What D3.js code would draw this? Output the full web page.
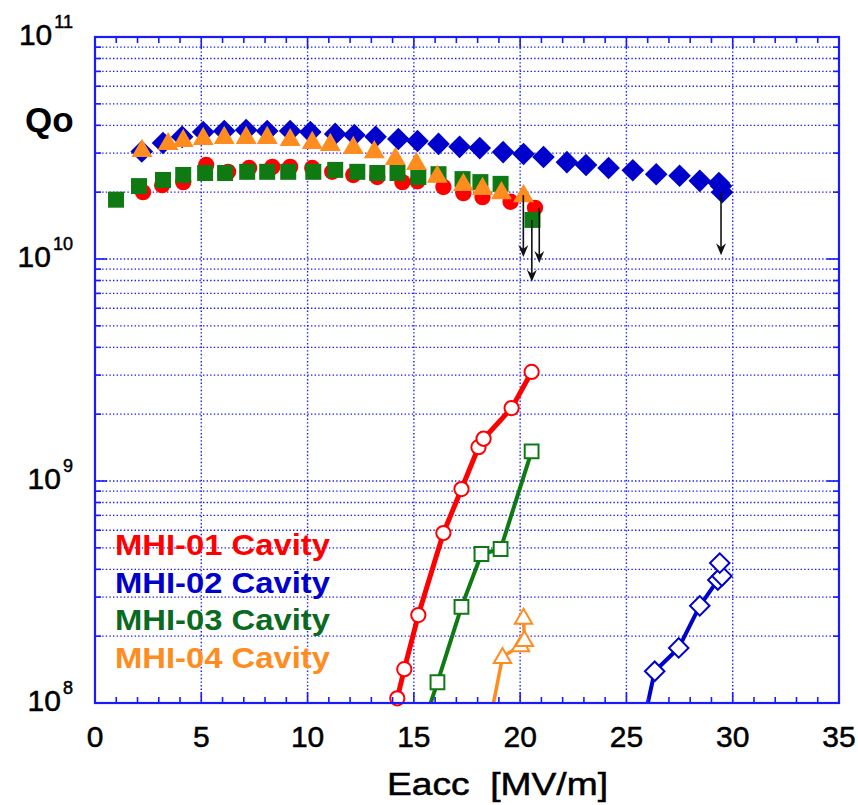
<!DOCTYPE html>
<html>
<head>
<meta charset="utf-8">
<script src="https://cdn.jsdelivr.net/npm/d3@7"></script>
<style>
  body { margin: 0; background: #fff; }
  svg { display: block; font-family: "Liberation Sans", Arial, sans-serif; }
</style>
</head>
<body>
<div id="chart"></div>
<script>
// Qo vs Eacc, closed markers = Qo, open markers + line = second measurement
const mhi01E = [2.26, 3.16, 4.15, 5.23, 6.26, 7.25, 8.34, 9.18, 10.22, 11.16, 12.15, 13.28, 14.46, 15.17, 16.39, 17.33, 18.23, 19.55, 20.7];
const mhi01Q = [2.0e10, 2.15e10, 2.22e10, 2.65e10, 2.47e10, 2.57e10, 2.6e10, 2.6e10, 2.57e10, 2.47e10, 2.39e10, 2.34e10, 2.22e10, 2.24e10, 2.11e10, 1.98e10, 1.9e10, 1.81e10, 1.7e10];

const mhi02E = [2.2, 3.2, 4.1, 5.09, 6.08, 7.11, 8.1, 9.18, 10.13, 11.3, 12.2, 13.2, 14.27, 15.17, 16.16, 17.15, 18.1, 19.2, 20.16, 21.1, 22.2, 23.1, 24.16, 25.3, 26.4, 27.5, 28.45, 29.35, 29.45, 29.5];
const mhi02Q = [3.05e10, 3.33e10, 3.55e10, 3.73e10, 3.77e10, 3.81e10, 3.77e10, 3.77e10, 3.73e10, 3.66e10, 3.62e10, 3.55e10, 3.47e10, 3.4e10, 3.3e10, 3.2e10, 3.16e10, 3.03e10, 2.97e10, 2.88e10, 2.73e10, 2.65e10, 2.57e10, 2.51e10, 2.41e10, 2.37e10, 2.25e10, 2.2e10, 2.13e10, 2.0e10];

const mhi03E = [0.99, 2.07, 3.2, 4.15, 5.18, 6.12, 7.16, 8.1, 9.09, 10.27, 11.3, 12.34, 13.28, 14.23, 15.21, 16.16, 17.29, 18.13, 19.08, 20.58];
const mhi03Q = [1.85e10, 2.13e10, 2.27e10, 2.39e10, 2.44e10, 2.44e10, 2.47e10, 2.47e10, 2.47e10, 2.47e10, 2.52e10, 2.47e10, 2.44e10, 2.44e10, 2.34e10, 2.41e10, 2.29e10, 2.22e10, 2.18e10, 1.5e10];

const mhi04E = [2.21, 3.44, 4.15, 5.09, 6.08, 7.11, 8.1, 9.18, 10.22, 11.07, 12.15, 13.14, 14.13, 15.12, 16.1, 17.33, 18.23, 19.12, 20.16];
const mhi04Q = [3.1e10, 3.33e10, 3.44e10, 3.51e10, 3.55e10, 3.55e10, 3.55e10, 3.47e10, 3.37e10, 3.3e10, 3.2e10, 3.06e10, 2.85e10, 2.71e10, 2.37e10, 2.18e10, 2.09e10, 2.0e10, 1.94e10];

// open-marker curves
const mhi01RadE = [14.22, 14.55, 15.21, 16.39, 17.24, 18.04, 18.28, 19.6, 20.54];
const mhi01Rad = [1.05e8, 1.42e8, 2.49e8, 5.83e8, 9.2e8, 1.42e9, 1.55e9, 2.13e9, 3.1e9];

const mhi02RadE = [25.85, 26.33, 27.46, 28.45, 29.3, 29.49, 29.39];
const mhi02Rad = [8.5e7, 1.39e8, 1.77e8, 2.74e8, 3.58e8, 3.73e8, 4.27e8];

const mhi03RadE = [15.55, 16.11, 17.24, 18.18, 19.08, 20.54];
const mhi03Rad = [8.5e7, 1.24e8, 2.71e8, 4.69e8, 4.94e8, 1.36e9];

const mhi04RadE = [18.6, 19.17, 20.02, 20.2, 20.16];
const mhi04Rad = [8.5e7, 1.61e8, 1.82e8, 1.92e8, 2.42e8];

// quench arrows
const arrowE = [20.15, 20.55, 20.9, 29.45];
const arrowFrom = [1.94e10, 1.5e10, 1.7e10, 2.0e10];
const arrowTo = [1.02e10, 7.9e9, 9.6e9, 1.04e10];

const xTicks = [0, 5, 10, 15, 20, 25, 30, 35];
const yDecades = [8, 9, 10, 11];
const legendLabels = ["MHI-01 Cavity", "MHI-02 Cavity", "MHI-03 Cavity", "MHI-04 Cavity"];

const colors = ["#ff0000", "#0000cc", "#0f7a12", "#ff8c1e"];
const legendColors = ["#ff0000", "#0000cc", "#0b6a22", "#ff8c1e"];
const axisBlue = "#1a1aff";

const width = 858, height = 805;
const margin = {left: 95, top: 37, right: 19, bottom: 102};
const plotW = width - margin.left - margin.right;
const plotH = height - margin.top - margin.bottom;

const svg = d3.select("#chart").append("svg")
    .attr("width", width)
    .attr("height", height);

const x = d3.scaleLinear().domain([0, 35]).range([margin.left, margin.left + plotW]);
const y = d3.scaleLog().domain([1e8, 1e11]).range([margin.top + plotH, margin.top]);

svg.append("clipPath").attr("id", "plotClip")
    .append("rect")
    .attr("x", margin.left).attr("y", margin.top)
    .attr("width", plotW).attr("height", plotH);

// grid
let minorVals = [];
yDecades.slice(0, 3).forEach(d => {
    for (let m = 2; m <= 10; m++) minorVals.push(m * Math.pow(10, d));
});
minorVals = minorVals.filter(v => v < 1e11);

const grid = svg.append("g")
    .attr("stroke", axisBlue)
    .attr("stroke-width", 1.4)
    .attr("stroke-dasharray", "1.4,2.2");

grid.selectAll("line.h")
    .data(minorVals)
    .enter().append("line")
    .attr("class", "h")
    .attr("x1", margin.left).attr("x2", margin.left + plotW)
    .attr("y1", d => y(d)).attr("y2", d => y(d));

grid.selectAll("line.v")
    .data(xTicks.slice(1, -1))
    .enter().append("line")
    .attr("class", "v")
    .attr("x1", d => x(d)).attr("x2", d => x(d))
    .attr("y1", margin.top).attr("y2", margin.top + plotH);

// open-marker curves
const radSeries = [
    {e: mhi01RadE, v: mhi01Rad, shape: "circle", width: 5},
    {e: mhi02RadE, v: mhi02Rad, shape: "diamond", width: 4},
    {e: mhi03RadE, v: mhi03Rad, shape: "square", width: 4},
    {e: mhi04RadE, v: mhi04Rad, shape: "triangle", width: 3.5},
];

const line = d3.line()
    .x(d => x(d[0]))
    .y(d => y(d[1]));

function symbolPath(shape, big) {
    if (shape === "circle") return d3.symbol(d3.symbolCircle, big ? 210 : 160)();
    if (shape === "square") return d3.symbol(d3.symbolSquare, big ? 256 : 190)();
    if (shape === "diamond") return d3.symbol(d3.symbolSquare, big ? 256 : 190)();
    return d3.symbol(d3.symbolTriangle, big ? 190 : 130)();
}

function symbolTransform(shape, px, py) {
    let t = `translate(${px},${py})`;
    if (shape === "diamond") t += " rotate(45)";
    if (shape === "triangle") t += " translate(0,1)";
    return t;
}

const radGroup = svg.append("g");
radSeries.forEach((s, i) => {
    const pts = s.e.map((e, j) => [e, s.v[j]]);
    radGroup.append("path")
        .attr("clip-path", "url(#plotClip)")
        .attr("d", line(pts))
        .attr("fill", "none")
        .attr("stroke", colors[i])
        .attr("stroke-width", s.width)
        .attr("stroke-linejoin", "round");

    radGroup.selectAll(null)
        .data(pts.filter(p => p[1] >= 1e8))
        .enter().append("path")
        .attr("d", symbolPath(s.shape, false))
        .attr("transform", d => symbolTransform(s.shape, x(d[0]), y(d[1])))
        .attr("fill", "#fff")
        .attr("stroke", colors[i])
        .attr("stroke-width", 2);
});

// Qo series (closed markers)
const qoSeries = [
    {e: mhi01E, v: mhi01Q, shape: "circle"},
    {e: mhi02E, v: mhi02Q, shape: "diamond"},
    {e: mhi03E, v: mhi03Q, shape: "square"},
    {e: mhi04E, v: mhi04Q, shape: "triangle"},
];

qoSeries.forEach((s, i) => {
    svg.append("g").selectAll("path")
        .data(s.e.map((e, j) => [e, s.v[j]]))
        .enter().append("path")
        .attr("d", symbolPath(s.shape, true))
        .attr("transform", d => symbolTransform(s.shape, x(d[0]), y(d[1])))
        .attr("fill", colors[i]);
});

// arrows
const arrows = svg.append("g");
arrowE.forEach((e, i) => {
    const ax = x(e), y0 = y(arrowFrom[i]), y1 = y(arrowTo[i]);
    arrows.append("line")
        .attr("x1", ax).attr("x2", ax)
        .attr("y1", y0).attr("y2", y1 - 4)
        .attr("stroke", "#111")
        .attr("stroke-width", 1.6);
    arrows.append("path")
        .attr("d", `M${ax},${y1} L${ax - 5},${y1 - 12} L${ax},${y1 - 8} L${ax + 5},${y1 - 12} Z`)
        .attr("fill", "#111");
});

// axes frame + ticks
const frame = svg.append("g").attr("stroke", axisBlue);
frame.append("rect")
    .attr("x", margin.left).attr("y", margin.top)
    .attr("width", plotW).attr("height", plotH)
    .attr("fill", "none")
    .attr("stroke-width", 2.2);

const xMinor = d3.range(1, 35);
frame.selectAll("line.xt")
    .data(xMinor)
    .enter().append("line")
    .attr("class", "xt")
    .attr("stroke-width", 1.6)
    .attr("x1", d => x(d)).attr("x2", d => x(d))
    .attr("y1", y(1e8)).attr("y2", d => y(1e8) - (d % 5 === 0 ? 11 : 6));
frame.selectAll("line.xtt")
    .data(xMinor)
    .enter().append("line")
    .attr("class", "xtt")
    .attr("stroke-width", 1.6)
    .attr("x1", d => x(d)).attr("x2", d => x(d))
    .attr("y1", y(1e11)).attr("y2", d => y(1e11) + (d % 5 === 0 ? 11 : 6));

frame.selectAll("line.yt")
    .data(minorVals)
    .enter().append("line")
    .attr("class", "yt")
    .attr("stroke-width", 1.6)
    .attr("y1", d => y(d)).attr("y2", d => y(d))
    .attr("x1", margin.left).attr("x2", d => margin.left + (Math.abs(Math.log10(d) % 1) < 1e-6 ? 12 : 6));
frame.selectAll("line.ytr")
    .data(minorVals)
    .enter().append("line")
    .attr("class", "ytr")
    .attr("stroke-width", 1.6)
    .attr("y1", d => y(d)).attr("y2", d => y(d))
    .attr("x1", margin.left + plotW).attr("x2", d => margin.left + plotW - (Math.abs(Math.log10(d) % 1) < 1e-6 ? 12 : 6));

// tick labels
svg.append("g").selectAll("text")
    .data(xTicks)
    .enter().append("text")
    .attr("x", d => x(d))
    .attr("y", 747)
    .attr("text-anchor", "middle")
    .attr("font-size", 30)
    .attr("fill", "#000")
    .attr("stroke", "#000")
    .attr("stroke-width", 0.5)
    .text(d => d);

const yLabels = svg.append("g").selectAll("text")
    .data(yDecades)
    .enter().append("text")
    .attr("x", 73)
    .attr("y", d => y(Math.pow(10, d)) + 8)
    .attr("text-anchor", "end")
    .attr("font-size", 30)
    .attr("fill", "#000")
    .attr("stroke", "#000")
    .attr("stroke-width", 0.5);
yLabels.append("tspan").text("10");
yLabels.append("tspan")
    .attr("font-size", 18)
    .attr("dx", 2)
    .attr("dy", -17)
    .text(d => d);

svg.append("text")
    .attr("x", 25).attr("y", 132)
    .attr("font-size", 35)
    .attr("font-weight", "bold")
    .attr("fill", "#000")
    .text("Qo");

svg.append("text")
    .attr("x", 387).attr("y", 795)
    .attr("font-size", 31)
    .attr("fill", "#000")
    .attr("stroke", "#000")
    .attr("stroke-width", 0.5)
    .attr("xml:space", "preserve")
    .attr("textLength", 221)
    .attr("lengthAdjust", "spacingAndGlyphs")
    .text("Eacc  [MV/m]");

// legend
svg.append("g").selectAll("text")
    .data(legendLabels)
    .enter().append("text")
    .attr("x", 115)
    .attr("y", (d, i) => 555 + i * 37.7)
    .attr("font-size", 30)
    .attr("font-weight", "bold")
    .attr("textLength", 215)
    .attr("lengthAdjust", "spacingAndGlyphs")
    .attr("fill", (d, i) => legendColors[i])
    .text(d => d);
</script>
</body>
</html>
